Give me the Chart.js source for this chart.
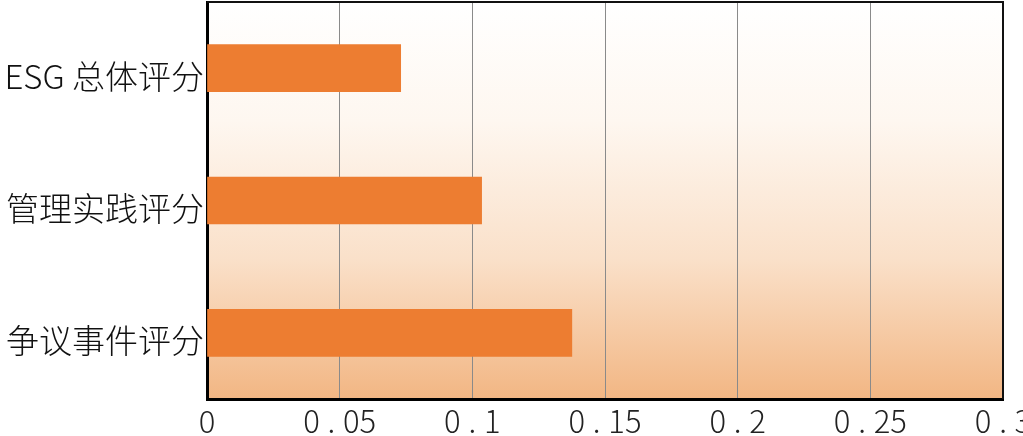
<!DOCTYPE html>
<html>
<head>
<meta charset="utf-8">
<script src="https://cdn.jsdelivr.net/npm/chart.js@4/dist/chart.umd.min.js"></script>
<style>
  html, body { margin: 0; padding: 0; background: #fff; overflow: hidden; }
  #wrap { width: 1023px; height: 436px; }
</style>
</head>
<body>
<div id="wrap"><canvas id="c" width="1023" height="436"></canvas></div>
<script>
// data
const categories = ['ESG 总体评分', '管理实践评分', '争议事件评分'];
const scores = [0.073, 0.1035, 0.1375];
const xTicks = [0, 0.05, 0.1, 0.15, 0.2, 0.25, 0.3];

const FONT = '"Noto Sans CJK SC", "Noto Sans", sans-serif';

// peach gradient behind the plot + frame on top/right
const areaBg = {
  id: 'areaBg',
  beforeDraw(chart) {
    const { ctx, chartArea: a } = chart;
    const g = ctx.createLinearGradient(0, a.top, 0, a.bottom);
    g.addColorStop(0, '#ffffff');
    g.addColorStop(0.3, '#fef7f0');
    g.addColorStop(0.65, '#fae0c9');
    g.addColorStop(1, '#f2b683');
    ctx.save();
    ctx.fillStyle = g;
    ctx.fillRect(a.left, a.top, a.right - a.left, a.bottom - a.top);
    ctx.restore();
  },
  afterDraw(chart) {
    const { ctx, chartArea: a } = chart;
    ctx.save();
    ctx.strokeStyle = '#111';
    ctx.lineWidth = 2;
    ctx.beginPath();
    ctx.moveTo(a.left, a.top);
    ctx.lineTo(a.right, a.top);
    ctx.lineTo(a.right, a.bottom);
    ctx.stroke();
    ctx.restore();
  }
};

new Chart(document.getElementById('c'), {
  type: 'bar',
  data: {
    labels: categories,
    datasets: [{
      data: scores,
      backgroundColor: '#ED7D31',
      borderWidth: 0,
      barThickness: 47
    }]
  },
  options: {
    indexAxis: 'y',
    responsive: false,
    animation: false,
    layout: { padding: { top: 2, right: 20, left: 0, bottom: 0 } },
    plugins: { legend: { display: false }, tooltip: { enabled: false } },
    scales: {
      x: {
        min: 0, max: 0.3,
        afterBuildTicks(scale) { scale.ticks = xTicks.map(v => ({ value: v })); },
        afterFit(scale) { scale.height = 37; scale.paddingLeft = 0; scale.paddingRight = 0; },
        grid: { color: '#8a8a8a', lineWidth: 1, drawTicks: false },
        border: { display: true, color: '#000', width: 3 },
        ticks: {
          padding: 4,
          color: '#222',
          font: { family: FONT, size: 31, weight: 300 },
          callback: v => String(v).replace('.', '\u2005.\u2005')
        }
      },
      y: {
        afterFit(scale) { scale.width = 207; scale.paddingTop = 0; scale.paddingBottom = 0; },
        grid: { display: false, drawTicks: false },
        border: { display: true, color: '#000', width: 3 },
        ticks: {
          padding: 3,
          labelOffset: 8,
          color: '#111',
          font: { family: FONT, size: 33, weight: 300 }
        }
      }
    }
  },
  plugins: [areaBg]
});
</script>
</body>
</html>
